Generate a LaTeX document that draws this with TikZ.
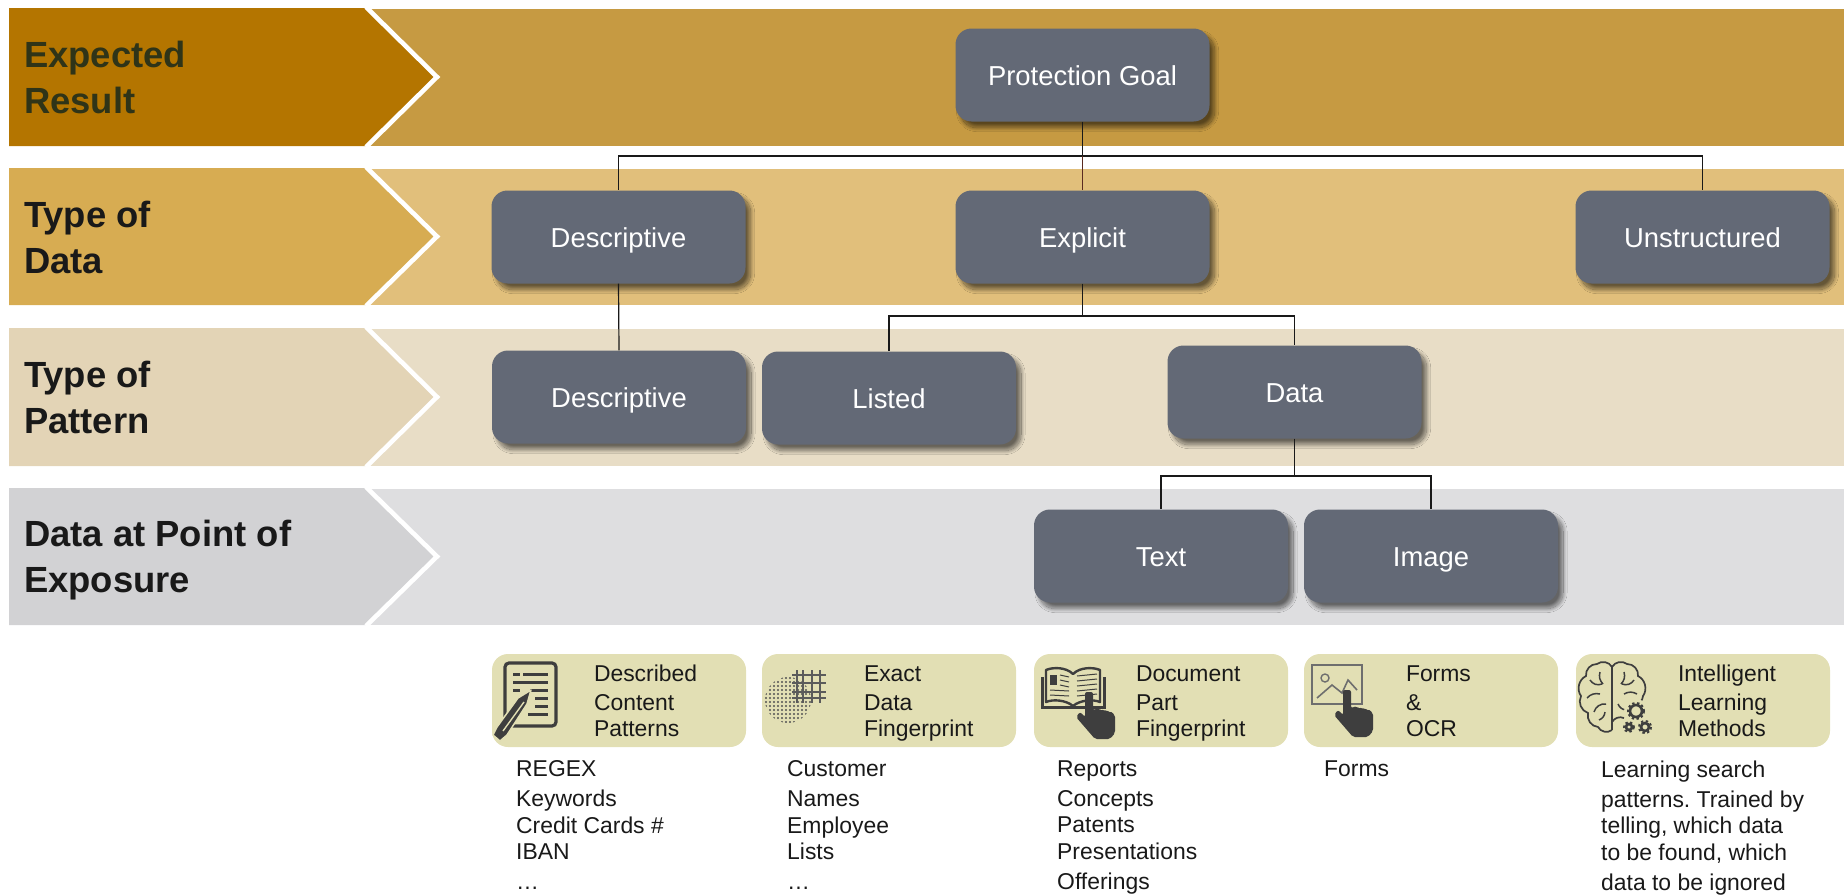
\documentclass[tikz,border=0pt]{standalone}
\usepackage{fontspec}
\setmainfont{Liberation Sans}
\usetikzlibrary{positioning}
\usetikzlibrary{shadows.blur}

\definecolor{bandAdark}{HTML}{B47500}
\definecolor{bandAlight}{HTML}{C69A42}
\definecolor{bandBdark}{HTML}{D7AC52}
\definecolor{bandBlight}{HTML}{E1BF7B}
\definecolor{bandCdark}{HTML}{E3D4B6}
\definecolor{bandClight}{HTML}{E8DDC6}
\definecolor{bandDdark}{HTML}{D2D2D4}
\definecolor{bandDlight}{HTML}{DEDEE0}
\definecolor{boxgray}{HTML}{636976}
\definecolor{tileyellow}{HTML}{E2DFB4}
\definecolor{icondark}{HTML}{3E3E3E}
\definecolor{stubred}{HTML}{5A2A20}

\tikzset{
  stagelabel/.style={anchor=west,align=left,inner sep=0pt,font=\fontsize{36.4}{46}\selectfont\bfseries},
  box/.style={draw=none,fill=boxgray,rounded corners=16pt,minimum width=254pt,minimum height=93pt,inner sep=0pt,
    text=white,text height=26pt,text depth=5.4pt,font=\fontsize{27.4}{32}\selectfont,
    blur shadow={shadow xshift=5pt,shadow yshift=-6pt,shadow blur radius=4pt,shadow blur steps=24,shadow opacity=55}},
  tile/.style={fill=tileyellow,rounded corners=16pt,minimum width=254pt,minimum height=93pt,inner sep=0pt},
  tiletext/.style={align=left,inner sep=0pt,text=black!90,yshift=-4.2pt,font=\fontsize{22.9}{26}\selectfont,
    execute at begin node=\strut,execute at end node=\strut},
  listtext/.style={anchor=north west,align=left,inner sep=0pt,text=black!90,font=\fontsize{22.9}{26.5}\selectfont\frenchspacing},
  link/.style={draw=black!90,line width=1.7pt},
  thinlink/.style={draw=black!90,line width=1.2pt},
  handicon/.pic={
    \fill[icondark,rounded corners=2pt] (-4,-1) -- (4,-1) -- (4,17) -- (10,15) -- (12,18) -- (15,16) -- (18,19)
      -- (21,18) -- (26,22) -- (26,40) -- (21,46) -- (6,46) -- (-13,24) -- (-9,19) -- (-4,24) -- cycle;
  },
  gearicon/.pic={
    \draw[icondark,line width=2.6pt] (0,0) circle (#1);
    \draw[icondark,line width=2pt,dash pattern=on 2.4pt off 2.4pt] (0,0) circle (#1+2);
  }
}

\begin{document}
\begin{tikzpicture}[x=1pt,y=-1pt]

\useasboundingbox (0,0) rectangle (1844,894);

\foreach \ytop/\ybot/\cdark/\clight in {8/146/bandAdark/bandAlight,168/305/bandBdark/bandBlight,328/466/bandCdark/bandClight,488/625/bandDdark/bandDlight}{
  \fill[\clight] (368,\ytop+1) rectangle (1844,\ybot);
  \fill[\cdark] (9,\ytop) -- (367,\ytop) -- (437,{(\ytop+\ybot)/2}) -- (367,\ybot) -- (9,\ybot) -- cycle;
  \draw[white,line width=4.6pt] (366,\ytop-1) -- (437,{(\ytop+\ybot)/2}) -- (366,\ybot+1);
}

\node[stagelabel,text={rgb,255:red,47;green,52;blue,24}] (labelresult) at (24,77) {Expected\\Result};
\node[stagelabel,text=black!90] (labeldata) at (24,237) {Type of\\Data};
\node[stagelabel,text=black!90] (labelpattern) at (24,397) {Type of\\Pattern};
\node[stagelabel,text=black!90] (labelexposure) at (24,560.5) {Data at Point of\\Exposure};

\node[box] (goal) at (1082.5,75) {Protection Goal};
\node[box] (descdata) at (618.5,237) {Descriptive};
\node[box] (explicit) at (1082.5,237) {Explicit};
\node[box] (unstructured) at (1702.5,237) {Unstructured};
\node[box] (descpattern) at (619,397) {Descriptive};
\node[box] (listed) at (889,398) {Listed};
\node[box] (data) at (1294.5,392) {Data};
\node[box] (text) at (1161,556) {Text};
\node[box] (image) at (1431,556) {Image};

\coordinate (busgoal) at (1082.5,156);
\coordinate (busexplicit) at (1082.5,316);
\coordinate (busdata) at (1294.5,476);

\draw[link] (goal.south) -- (busgoal);
\draw[link] (busgoal) -| (descdata.north);
\draw[link] (busgoal) -| (unstructured.north);
\draw[stubred,line width=1.2pt] (busgoal) -- (explicit.north);
\draw[thinlink] (descdata.south) -- (descpattern.north);
\draw[link] (explicit.south) -- (busexplicit);
\draw[thinlink] (busexplicit) -| (listed.north);
\draw[thinlink] (busexplicit) -| (data.north);
\draw[link] (data.south) -- (busdata);
\draw[thinlink] (busdata) -| (text.north);
\draw[thinlink] (busdata) -| (image.north);

\node[tile] (tilecontent) at (619,700.5) {};
\node[tile] (tileexact) at (889,700.5) {};
\node[tile] (tiledocument) at (1161,700.5) {};
\node[tile] (tileforms) at (1431,700.5) {};
\node[tile] (tilelearning) at (1703,700.5) {};

\node[tiletext,right=102pt of tilecontent.west] (textcontent) {Described\\[3pt]Content\\Patterns};
\node[tiletext,right=102pt of tileexact.west] (textexact) {Exact\\[3pt]Data\\Fingerprint};
\node[tiletext,right=102pt of tiledocument.west] (textdocument) {Document\\[3pt]Part\\Fingerprint};
\node[tiletext,right=102pt of tileforms.west] (textforms) {Forms\\[3pt]\&\\OCR};
\node[tiletext,right=102pt of tilelearning.west] (textlearning) {Intelligent\\[3pt]Learning\\Methods};

\node[listtext] (listcontent) at (516,760.5) {REGEX\\[3.5pt]Keywords\\Credit Cards \#\\IBAN\\[3.5pt]…};
\node[listtext] (listexact) at (787,760.5) {Customer\\[3.5pt]Names\\Employee\\Lists\\[3.5pt]…};
\node[listtext] (listdocument) at (1057,760.5) {Reports\\[3.5pt]Concepts\\Patents\\Presentations\\[3.5pt]Offerings};
\node[listtext] (listforms) at (1324,760.5) {Forms};
\node[listtext] (listlearning) at (1601,760.5) {Learning search\\[3.5pt]patterns. Trained by\\telling, which data\\to be found, which\\[3.5pt]data to be ignored};

\draw[icondark,line width=3.2pt,rounded corners=4pt] (505,663) rectangle (556,726);
\foreach \ya/\xa/\xb in {674/513/520,674/523/548,682/513/548,690/513/520,690/530/548,698/535/548,706/535/548,714/528/548}{
  \draw[icondark,line width=3pt] (\xa,\ya) -- (\xb,\ya);
}
\fill[icondark,draw=tileyellow,line width=1.5pt,line join=round] (531,690) -- (527,704) -- (507,735) -- (500,741) -- (493,735) -- (497,727) -- (518,698) -- cycle;
\draw[tileyellow,line width=1.4pt] (524,702) -- (503,731);

\begin{scope}
\clip (788,700) circle (23);
\foreach \i in {0,...,11}{
  \foreach \j in {0,...,11}{
    \fill[icondark!90] ({766+4*\i},{678+4*\j}) circle (1.2);
  }
}
\end{scope}
\foreach \xa in {797,803,812,820}{
  \draw[icondark!85,line width=1.5pt] (\xa,670) -- (\xa,703);
}
\foreach \ya in {675,683,692,698}{
  \draw[icondark!85,line width=1.5pt] (792,\ya) -- (826,\ya);
}

\draw[icondark,line width=3pt] (1042,677) -- (1042,707) -- (1104,707) -- (1104,677);
\draw[icondark,line width=2.4pt,line join=round] (1073,674) .. controls (1066,667) and (1053,667) .. (1046,670) -- (1046,702) .. controls (1053,699) and (1066,700) .. (1073,706) .. controls (1080,700) and (1093,699) .. (1100,702) -- (1100,670) .. controls (1093,667) and (1080,667) .. (1073,674) -- cycle;
\fill[icondark] (1050,675) rectangle (1057,685);
\foreach \ya in {675,680,685}{
  \draw[icondark,line width=1pt] (1060,\ya) -- (1069,\ya+2);
}
\foreach \ya in {690,695}{
  \draw[icondark,line width=1pt] (1050,\ya) -- (1069,\ya+1);
}
\foreach \ya in {675,680,685,690,695}{
  \draw[icondark,line width=1pt] (1077,\ya+1) -- (1097,\ya-1);
}
\pic at (1089,693) {handicon};

\draw[icondark!75,line width=2.6pt] (1312,665) rectangle (1362,704);
\draw[icondark!75,line width=1.4pt] (1325,678) circle (4);
\draw[icondark!75,line width=1.6pt] (1317,698) -- (1332,685) -- (1342,693) -- (1348,680) -- (1357,690);
\pic at (1347,691) {handicon};

\draw[icondark,line width=1.7pt] (1612,666) -- (1612,730);
\draw[icondark,line width=1.7pt] (1612,667) to[bend right=50] (1597,664) to[bend right=50] (1586,676) to[bend right=50] (1581,696) to[bend right=50] (1588,713) to[bend right=50] (1598,727) to[bend right=50] (1612,730);
\draw[icondark,line width=1.7pt] (1612,667) to[bend left=50] (1627,664) to[bend left=50] (1638,676) to[bend left=50] (1643,696) to[bend left=30] (1637,704);
\draw[icondark,line width=1.7pt] (1612,722) to[bend left=40] (1624,718);
\draw[icondark,line width=1.5pt] (1590,680) to[bend right=40] (1602,684) (1600,672) to[bend right=30] (1603,684) (1587,698) to[bend left=30] (1600,694) (1594,712) to[bend left=40] (1606,704) (1599,720) to[bend right=30] (1605,712);
\draw[icondark,line width=1.5pt] (1634,680) to[bend left=40] (1622,684) (1624,672) to[bend left=30] (1621,684) (1637,694) to[bend right=30] (1624,694) (1618,704) to[bend right=30] (1626,710);
\fill[tileyellow] (1636,711) circle (12);
\pic at (1636,711) {gearicon=6};
\pic at (1645,727) {gearicon=4};
\pic at (1629,727) {gearicon=3};

\end{tikzpicture}
\end{document}
